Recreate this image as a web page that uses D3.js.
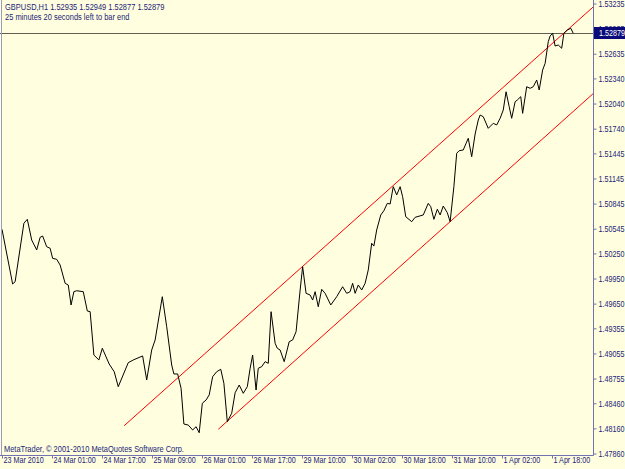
<!DOCTYPE html>
<html lang="en">
<head>
    <meta charset="UTF-8">
    <title>GBPUSD,H1</title>
    <script src="https://d3js.org/d3.v7.min.js"></script>
    <style>
        body {
            margin: 0;
            background: #ffffe0;
        }
        svg {
            display: block;
            background: #ffffe0;
            font-family: 'Liberation Sans', Arial, sans-serif;
        }
        .axis text {
            font-size: 9px;
            fill: #1c1c78;
        }
        .axis line {
            stroke: #7272b0;
        }
        .info {
            font-size: 9px;
            fill: #1c1c78;
        }
    </style>
</head>
<body>
    <svg id="chart" width="625" height="469"></svg>

    <script>
        // hourly closes, bar index counted from the first visible bar
        const bars = [
            0.0, 3.4, 4.2, 7.0, 8.1, 9.5, 11.1, 12.2, 13.0, 14.3, 15.4, 16.2, 17.5, 18.6, 20.2, 21.2,
            22.1, 23.0, 23.9, 26.0, 27.3, 28.2, 29.4, 31.0, 32.1, 34.3, 35.9, 37.2, 40.4, 42.0, 45.0,
            46.3, 47.9, 49.0, 51.3, 52.7, 54.3, 55.0, 56.2, 57.3, 58.2, 59.6, 61.0, 62.1, 63.1, 64.1,
            65.3, 66.3, 67.4, 68.7, 70.0, 71.0, 72.1, 73.5, 74.6, 75.9, 77.2, 78.5, 79.4, 80.2, 81.3,
            82.0, 83.1, 84.2, 85.2, 86.1, 87.4, 88.1, 89.0, 90.3, 91.9, 93.0, 94.1, 95.4, 96.2, 97.3,
            98.6, 99.4, 100.2, 101.2, 102.3, 103.4, 105.2, 107.1, 109.0, 110.3, 111.4, 112.2, 113.0,
            114.0, 115.1, 116.2, 117.2, 118.3, 119.0, 119.9, 121.2, 122.2, 123.3, 124.2, 125.2, 126.3,
            127.4, 128.2, 129.2, 131.1, 132.2, 134.8, 136.4, 137.2, 138.2, 139.3, 140.2, 141.2, 142.5,
            143.4, 144.6, 145.5, 146.3, 147.6, 148.5, 149.2, 150.3, 151.4, 152.4, 153.0, 154.0, 155.6,
            157.2, 158.3, 159.4, 160.4, 161.3, 162.3, 163.1, 164.2, 164.9, 166.0, 166.6, 167.9, 169.0,
            170.0, 171.1, 171.9, 173.0, 173.8, 174.8, 175.4, 176.2, 177.0, 178.0, 179.1, 179.8, 180.9,
            182.0, 182.8
        ];
        const closes = [
            1.50538, 1.49885, 1.49912, 1.50610, 1.50657, 1.50410, 1.50291, 1.50442, 1.50458, 1.50330, 1.50311, 1.50191, 1.50180, 1.50111, 1.49893, 1.49873,
            1.49634, 1.49793, 1.49804, 1.49793, 1.49562, 1.49554, 1.49036, 1.48977, 1.49117, 1.48929, 1.48837, 1.48658, 1.48945, 1.48977, 1.49025,
            1.48738, 1.49096, 1.49216, 1.49733, 1.49375, 1.48917, 1.48810, 1.48810, 1.48639, 1.48212, 1.48200, 1.48141, 1.48180, 1.48108, 1.48460,
            1.48499, 1.48559, 1.48777, 1.48837, 1.48866, 1.48699, 1.48240, 1.48340, 1.48586, 1.48678, 1.48579, 1.48658, 1.48878, 1.49036, 1.48618,
            1.48878, 1.48897, 1.48957, 1.48937, 1.49554, 1.49176, 1.49117, 1.49096, 1.48957, 1.49195, 1.49216, 1.49315, 1.49813, 1.50091, 1.49773,
            1.49753, 1.49693, 1.49793, 1.49613, 1.49821, 1.49773, 1.49634, 1.49733, 1.49852, 1.49773, 1.49793, 1.49893, 1.49773,
            1.49873, 1.49813, 1.49893, 1.50052, 1.50371, 1.50338, 1.50530, 1.50709, 1.50760, 1.50848, 1.50840, 1.51047, 1.50948,
            1.51047, 1.50927, 1.50688, 1.50629, 1.50681, 1.50709, 1.50848, 1.50808, 1.50657, 1.50777, 1.50709, 1.50816, 1.50736,
            1.50629, 1.51047, 1.51446, 1.51477, 1.51485, 1.51565, 1.51625, 1.51405, 1.51676, 1.51843, 1.51903, 1.51883, 1.51744,
            1.51804, 1.51784, 1.51864, 1.51963, 1.52181, 1.52002, 1.51864, 1.52062, 1.52082, 1.52122, 1.51923, 1.52241, 1.52222,
            1.52241, 1.52321, 1.52202, 1.52440, 1.52520, 1.52779, 1.52847, 1.52879, 1.52727, 1.52739, 1.52700, 1.52879, 1.52918,
            1.52939, 1.52879
        ];

        // channel trend lines: two anchor points each, extended to the price scale
        const upperBars = [39.1, 96.2];
        const upperPrices = [1.48192, 1.50095];
        const lowerBars = [69.2, 143.4];
        const lowerPrices = [1.48149, 1.50629];

        const bid = 1.52879;

        const priceTicks = [
            1.47860, 1.48160, 1.48460, 1.48755, 1.49055, 1.49355, 1.49650, 1.49950, 1.50250, 1.50545,
            1.50845, 1.51145, 1.51445, 1.51740, 1.52040, 1.52340, 1.52635, 1.52935, 1.53235
        ];
        const timeTickBars = [0, 16, 32, 48, 64, 80, 96, 112, 128, 144, 160, 176];
        const timeTickLabels = [
            "23 Mar 2010", "24 Mar 01:00", "24 Mar 17:00", "25 Mar 09:00", "26 Mar 01:00", "26 Mar 17:00",
            "29 Mar 10:00", "30 Mar 02:00", "30 Mar 18:00", "31 Mar 10:00", "1 Apr 02:00", "1 Apr 18:00"
        ];

        const headerLine = "GBPUSD,H1  1.52935 1.52949 1.52877 1.52879";
        const timerLine = "25 minutes 20 seconds left to bar end";
        const copyright = "MetaTrader, \u00a9 2001-2010 MetaQuotes Software Corp.";

        const W = 625, H = 469;
        const plotRight = 594, plotBottom = 455;
        const squeezeK = 0.8;   // terminal font is narrower than anything installed

        const svg = d3.select("#chart");

        const x = d3.scaleLinear().domain([0, 176]).range([2, 552]);
        const y = d3.scaleLinear().domain([1.47860, 1.53235]).range([453.5, 3.5]);

        // squeeze text horizontally around its anchor point
        function squeeze(sel, k) {
            sel.each(function() {
                const t = d3.select(this);
                const tx = +t.attr("x") || 0, ty = +t.attr("y") || 0;
                t.attr("transform", `translate(${tx},${ty}) scale(${k},1)`)
                 .attr("x", 0).attr("y", 0);
            });
        }

        svg.append("defs").append("clipPath").attr("id", "plot-clip")
           .append("rect").attr("x", 0).attr("y", 0)
           .attr("width", plotRight).attr("height", plotBottom);

        const plot = svg.append("g").attr("clip-path", "url(#plot-clip)");

        // bid line
        plot.append("line")
            .attr("x1", 0).attr("x2", plotRight)
            .attr("y1", Math.round(y(bid)) + 0.5).attr("y2", Math.round(y(bid)) + 0.5)
            .attr("stroke", "#5e5e52").attr("stroke-width", 1);

        // channel lines (ray to the right edge)
        const xEnd = x.invert(plotRight);
        function channel(b, p) {
            const slope = (p[1] - p[0]) / (b[1] - b[0]);
            return [[b[0], p[0]], [xEnd, p[0] + slope * (xEnd - b[0])]];
        }
        [channel(upperBars, upperPrices), channel(lowerBars, lowerPrices)].forEach(seg => {
            plot.append("line")
                .attr("x1", x(seg[0][0])).attr("y1", y(seg[0][1]))
                .attr("x2", x(seg[1][0])).attr("y2", y(seg[1][1]))
                .attr("stroke", "#ff0000").attr("stroke-width", 1);
        });

        // price line
        const series = bars.map((b, i) => [b, closes[i]]);
        plot.append("path")
            .datum(series)
            .attr("fill", "none")
            .attr("stroke", "#000")
            .attr("stroke-width", 1)
            .attr("d", d3.line().x(d => x(d[0])).y(d => y(d[1])));

        // right price axis
        const yAxis = svg.append("g")
            .attr("class", "axis")
            .attr("transform", `translate(${plotRight - 0.5},0)`)
            .call(d3.axisRight(y).tickValues(priceTicks).tickSize(3).tickFormat(d3.format(".5f")));
        yAxis.select(".domain").remove();
        yAxis.selectAll("text").attr("x", 5);
        squeeze(yAxis.selectAll("text"), squeezeK);

        // bottom time axis
        const xAxis = svg.append("g")
            .attr("class", "axis")
            .attr("transform", `translate(0,${plotBottom + 0.5})`)
            .call(d3.axisBottom(x).tickValues(timeTickBars).tickSize(3).tickFormat((d, i) => timeTickLabels[i]));
        xAxis.select(".domain").remove();
        xAxis.selectAll("text")
            .attr("text-anchor", "start")
            .attr("x", 1)
            .attr("y", 1)
            .attr("dy", "0.71em");
        squeeze(xAxis.selectAll("text"), squeezeK);

        // frame
        svg.append("line")
            .attr("x1", plotRight - 0.5).attr("x2", plotRight - 0.5)
            .attr("y1", 0).attr("y2", plotBottom + 0.5)
            .attr("stroke", "#7272b0");
        svg.append("line")
            .attr("x1", 0).attr("x2", plotRight - 0.5)
            .attr("y1", plotBottom + 0.5).attr("y2", plotBottom + 0.5)
            .attr("stroke", "#7272b0");
        svg.append("line")
            .attr("x1", 1.5).attr("x2", 1.5)
            .attr("y1", 0).attr("y2", plotBottom)
            .attr("stroke", "#9a9ac8");

        // current price box
        const by = y(bid);
        svg.append("rect")
            .attr("x", plotRight).attr("y", Math.round(by) - 6)
            .attr("width", W - plotRight).attr("height", 12)
            .attr("fill", "#0a0a78");
        const bidLabel = svg.append("text")
            .attr("class", "info")
            .attr("x", plotRight + 5).attr("y", by)
            .attr("dy", "0.32em")
            .style("fill", "#fff")
            .text(d3.format(".5f")(bid));
        squeeze(bidLabel, squeezeK);

        // texts
        const info = svg.append("g");
        info.append("text").attr("class", "info").attr("x", 5).attr("y", 10).text(headerLine);
        info.append("text").attr("class", "info").attr("x", 5).attr("y", 20).text(timerLine);
        info.append("text").attr("class", "info").attr("x", 4).attr("y", 452).text(copyright);
        squeeze(info.selectAll("text"), 0.83);
    </script>
</body>
</html>
